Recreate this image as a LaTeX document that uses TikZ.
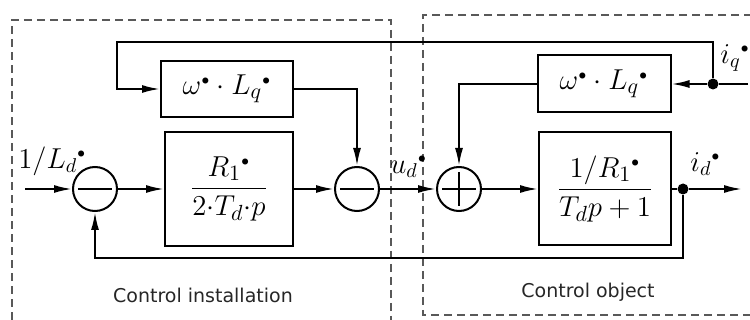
\documentclass[tikz,border=0pt]{standalone}
\usepackage{fontspec}
\setsansfont{DejaVu Sans}
\usepackage{tikz}
\usetikzlibrary{positioning,arrows.meta}
\newcommand{\sdot}{{}^{\scriptscriptstyle\bullet}}
\newcommand{\tdot}{{\cdot}}

\begin{document}
\begin{tikzpicture}[
  x=0.5pt, y=-0.5pt,
  blk/.style={draw, line width=1pt, inner sep=0pt, font=\fontsize{15}{17}\selectfont},
  sumc/.style={draw, circle, line width=1pt, minimum size=22pt, inner sep=0pt},
  subtr/.style={sumc, path picture={\draw[line width=0.9pt] ([xshift=2.5pt]path picture bounding box.west) -- ([xshift=-2.5pt]path picture bounding box.east);}},
  adder/.style={sumc, path picture={\draw[line width=0.9pt] ([xshift=2.5pt]path picture bounding box.west) -- ([xshift=-2.5pt]path picture bounding box.east) ([yshift=-2.5pt]path picture bounding box.north) -- ([yshift=2.5pt]path picture bounding box.south);}},
  jdot/.style={circle, fill, inner sep=0pt, minimum size=5.5pt},
  lbl/.style={font=\fontsize{14}{16}\selectfont, inner sep=0pt},
  captxt/.style={font=\sffamily\fontsize{9.5}{11}\selectfont, text=black!85},
  zone/.style={dash pattern=on 4pt off 2.5pt, line width=0.8pt, draw=black!65},
  arr/.style={-{Latex[length=9pt, width=4pt]}, line width=1pt},
  ln/.style={line width=1pt}
]
\useasboundingbox (0,0) rectangle (750,320);

\draw[zone] (12,320) -- (12,20) -- (391,20) -- (391,320);
\draw[zone] (752,15) -- (423,15) -- (423,315) -- (752,315);

\node[blk, minimum width=66pt, minimum height=28pt] (wl1) at (227,89) {$\omega\sdot\cdot L_q\sdot$};
\node[blk, minimum width=64pt, minimum height=57pt] (reg) at (229,189) {$\displaystyle\frac{R_1\sdot}{2\tdot T_d\tdot p}$};
\node[blk, minimum width=66.5pt, minimum height=28.5pt] (wl2) at (604,84) {$\omega\sdot\cdot L_q\sdot$};
\node[blk, minimum width=66pt, minimum height=56.5pt] (obj) at (605,189) {$\displaystyle\frac{1/R_1\sdot}{T_d p+1}$};

\node[subtr] (c1) at (95,189) {};
\node[subtr] (c2) at (357,189) {};
\node[adder] (c3) at (459,189) {};

\node[jdot] (jd) at (683,189) {};
\node[jdot] (jq) at (713,84) {};
\coordinate (in) at (25,189);
\coordinate (out) at (742,189);
\coordinate (iq) at (748,84);
\coordinate (tl) at (117,42);

\node[lbl, anchor=south west] (lin) at (18,176) {$1/L_d\sdot$};
\node[lbl, anchor=south west] (lud) at (390,178) {$u_d\sdot$};
\node[lbl, anchor=south west] (lid) at (690,176) {$i_d\sdot$};
\node[lbl, anchor=south west] (liq) at (720,72) {$i_q\sdot$};

\node[captxt] (capl) at (203,295) {Control installation};
\node[captxt] (capr) at (588,292) {Control object};

\draw[arr] (in) -- (c1);
\draw[arr] (c1) -- (reg);
\draw[arr] (reg) -- (c2);
\draw[arr] (c2) -- (c3);
\draw[arr] (c3) -- (obj);
\draw[ln] (obj) -- (jd);
\draw[arr] (jd) -- (out);
\draw[arr] (jd) -- ++(0,69) -| (c1);
\draw[ln] (iq) -- (jq);
\draw[arr] (jq) -- (wl2);
\draw[arr] (jq) |- (tl) |- (wl1);
\draw[arr] (wl1) -| (c2);
\draw[arr] (wl2) -| (c3);
\end{tikzpicture}
\end{document}
